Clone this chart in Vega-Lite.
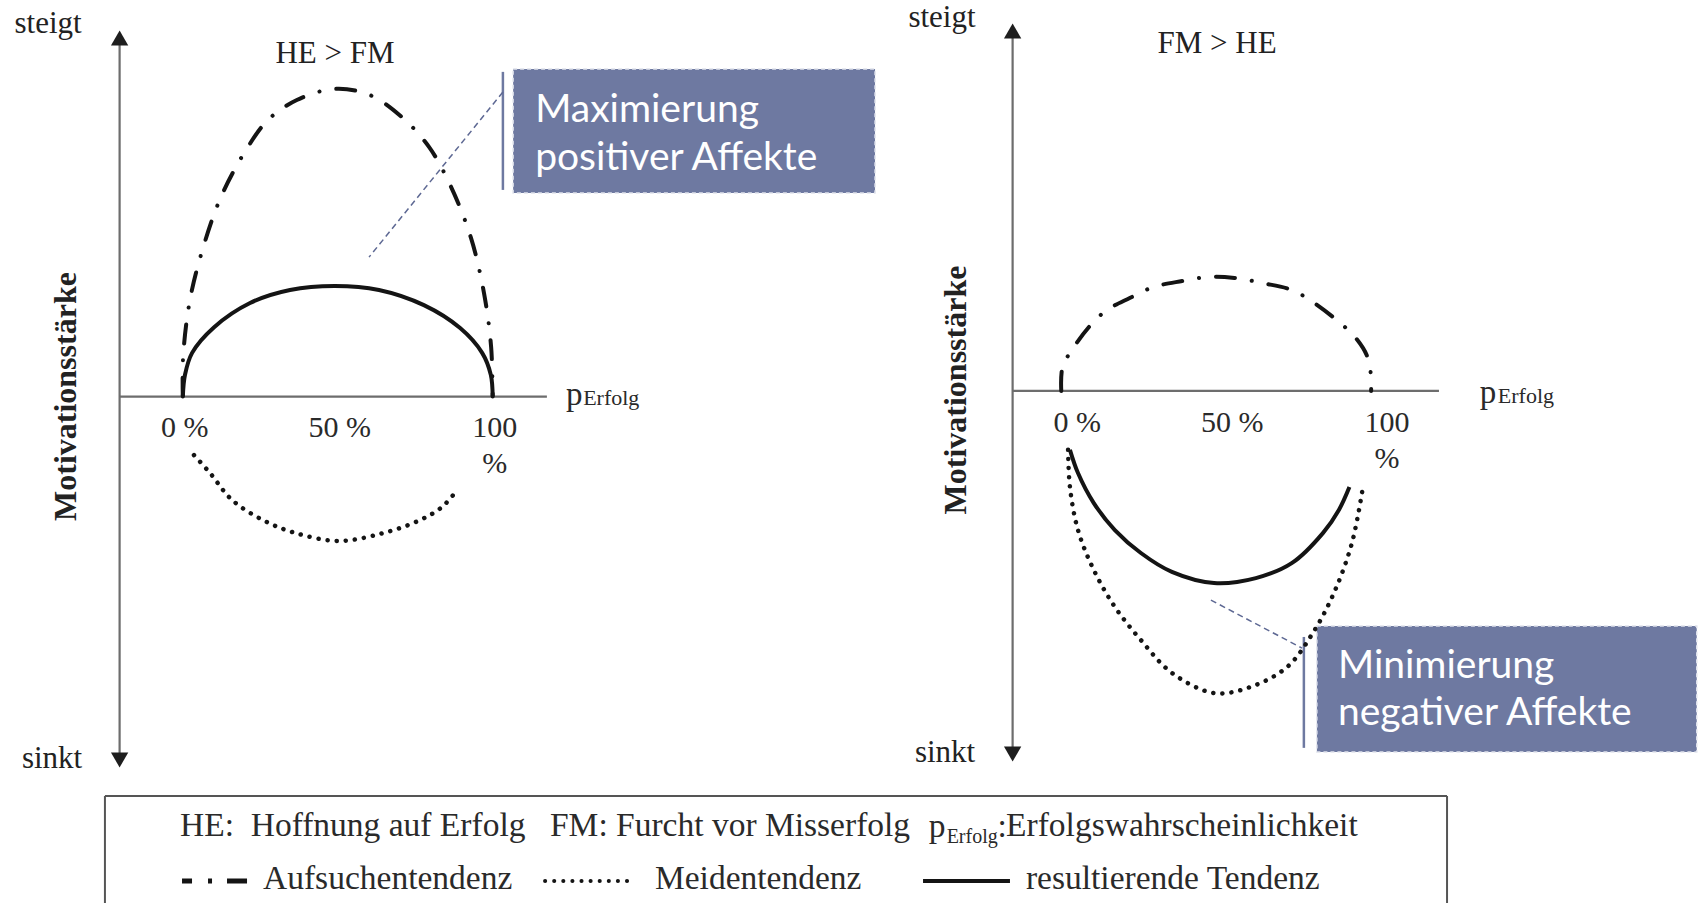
{
  "$schema": "https://vega.github.io/schema/vega-lite/v6.json",
  "padding": 0,
  "spacing": 0,
  "bounds": "full",
  "background": "white",
  "usermeta": {"embedOptions": {"actions": false}},
  "config": {"view": {"stroke": null}, "font": "Liberation Serif"},
  "datasets": {
    "left": [
      {"kind": "box", "x": 106.6, "y": 105.7, "x2": 223.4, "y2": 65.7},
      {"kind": "bar", "x": 103.3, "y": 104.8, "x2": 103.3, "y2": 66.7},
      {"kind": "leader", "x": 103.3, "y": 98.3, "x2": 60.1, "y2": 45.0},
      {"kind": "axis", "x": -20.4, "y": 115.7, "x2": -20.4, "y2": -117.3},
      {"kind": "axis", "x": -20.4, "y": 0, "x2": 117.5, "y2": 0},
      {"kind": "arrow", "dir": "up", "x": -20.4, "y": 115.7},
      {"kind": "arrow", "dir": "down", "x": -20.4, "y": -117.3},
      {"kind": "curve", "s": "Aufsuchentendenz", "i": 0, "x": 0, "y": 0},
      {"kind": "curve", "s": "Aufsuchentendenz", "i": 1, "x": 0.1, "y": 12.8},
      {"kind": "curve", "s": "Aufsuchentendenz", "i": 2, "x": 2.3, "y": 31.2},
      {"kind": "curve", "s": "Aufsuchentendenz", "i": 3, "x": 6.5, "y": 47.9},
      {"kind": "curve", "s": "Aufsuchentendenz", "i": 4, "x": 12.3, "y": 64.4},
      {"kind": "curve", "s": "Aufsuchentendenz", "i": 5, "x": 20.4, "y": 79.6},
      {"kind": "curve", "s": "Aufsuchentendenz", "i": 6, "x": 27.5, "y": 89.3},
      {"kind": "curve", "s": "Aufsuchentendenz", "i": 7, "x": 36.8, "y": 95.7},
      {"kind": "curve", "s": "Aufsuchentendenz", "i": 8, "x": 49.1, "y": 99.3},
      {"kind": "curve", "s": "Aufsuchentendenz", "i": 9, "x": 60.4, "y": 97.3},
      {"kind": "curve", "s": "Aufsuchentendenz", "i": 10, "x": 70.7, "y": 90.2},
      {"kind": "curve", "s": "Aufsuchentendenz", "i": 11, "x": 79.5, "y": 80.5},
      {"kind": "curve", "s": "Aufsuchentendenz", "i": 12, "x": 86.6, "y": 67.6},
      {"kind": "curve", "s": "Aufsuchentendenz", "i": 13, "x": 93.0, "y": 51.2},
      {"kind": "curve", "s": "Aufsuchentendenz", "i": 14, "x": 97.2, "y": 33.4},
      {"kind": "curve", "s": "Aufsuchentendenz", "i": 15, "x": 99.5, "y": 16.0},
      {"kind": "curve", "s": "Aufsuchentendenz", "i": 16, "x": 100, "y": 0},
      {"kind": "curve", "s": "resultierende Tendenz", "i": 0, "x": 0, "y": 0},
      {"kind": "curve", "s": "resultierende Tendenz", "i": 1, "x": 0.7, "y": 7.0},
      {"kind": "curve", "s": "resultierende Tendenz", "i": 2, "x": 3.0, "y": 14.1},
      {"kind": "curve", "s": "resultierende Tendenz", "i": 3, "x": 10.1, "y": 22.4},
      {"kind": "curve", "s": "resultierende Tendenz", "i": 4, "x": 21.7, "y": 30.2},
      {"kind": "curve", "s": "resultierende Tendenz", "i": 5, "x": 34.6, "y": 34.4},
      {"kind": "curve", "s": "resultierende Tendenz", "i": 6, "x": 49.1, "y": 35.7},
      {"kind": "curve", "s": "resultierende Tendenz", "i": 7, "x": 63.3, "y": 34.4},
      {"kind": "curve", "s": "resultierende Tendenz", "i": 8, "x": 77.8, "y": 29.5},
      {"kind": "curve", "s": "resultierende Tendenz", "i": 9, "x": 89.5, "y": 22.1},
      {"kind": "curve", "s": "resultierende Tendenz", "i": 10, "x": 96.6, "y": 14.1},
      {"kind": "curve", "s": "resultierende Tendenz", "i": 11, "x": 99.4, "y": 7.0},
      {"kind": "curve", "s": "resultierende Tendenz", "i": 12, "x": 100, "y": 0},
      {"kind": "curve", "s": "Meidentendenz", "i": 0, "x": 3.6, "y": -18.9},
      {"kind": "curve", "s": "Meidentendenz", "i": 1, "x": 8.8, "y": -24.7},
      {"kind": "curve", "s": "Meidentendenz", "i": 2, "x": 15.9, "y": -33.4},
      {"kind": "curve", "s": "Meidentendenz", "i": 3, "x": 25.9, "y": -39.9},
      {"kind": "curve", "s": "Meidentendenz", "i": 4, "x": 36.2, "y": -44.0},
      {"kind": "curve", "s": "Meidentendenz", "i": 5, "x": 50.4, "y": -46.6},
      {"kind": "curve", "s": "Meidentendenz", "i": 6, "x": 64.9, "y": -44.0},
      {"kind": "curve", "s": "Meidentendenz", "i": 7, "x": 76.5, "y": -39.9},
      {"kind": "curve", "s": "Meidentendenz", "i": 8, "x": 83.6, "y": -35.7},
      {"kind": "curve", "s": "Meidentendenz", "i": 9, "x": 87.8, "y": -31.1},
      {"kind": "title", "t": "steigt", "x": -43.5, "y": 117.3},
      {"kind": "title", "t": "sinkt", "x": -42.2, "y": -119.9},
      {"kind": "title", "t": "HE > FM", "x": 49.1, "y": 107.7},
      {"kind": "ylab", "t": "Motivationsstärke", "x": -37.7, "y": 0},
      {"kind": "tick", "t": "0 %", "x": 0, "y": -13.1},
      {"kind": "tick", "t": "50 %", "x": 50, "y": -13.1},
      {"kind": "tick", "t": "100", "x": 100, "y": -13.1},
      {"kind": "tick", "t": "%", "x": 100, "y": -24.7},
      {"kind": "p", "t": "p", "x": 123.7, "y": -2.7},
      {"kind": "sub", "t": "Erfolg", "x": 129.2, "y": -2.7},
      {"kind": "boxtext", "t": "Maximierung", "x": 113.7, "y": 88.6},
      {"kind": "boxtext", "t": "positiver Affekte", "x": 113.7, "y": 73.1}
    ],
    "right": [
      {"kind": "box", "x": 82.5, "y": -75.9, "x2": 205.1, "y2": -116.5},
      {"kind": "bar", "x": 78.3, "y": -79.4, "x2": 78.3, "y2": -115.2},
      {"kind": "leader", "x": 48.3, "y": -67.5, "x2": 77.7, "y2": -83.0},
      {"kind": "axis", "x": -15.7, "y": 116.2, "x2": -15.7, "y2": -117.2},
      {"kind": "axis", "x": -15.7, "y": 0, "x2": 121.9, "y2": 0},
      {"kind": "arrow", "dir": "up", "x": -15.7, "y": 116.2},
      {"kind": "arrow", "dir": "down", "x": -15.7, "y": -117.2},
      {"kind": "curve", "s": "Aufsuchentendenz", "i": 0, "x": 0, "y": 0},
      {"kind": "curve", "s": "Aufsuchentendenz", "i": 1, "x": 0.4, "y": 7.7},
      {"kind": "curve", "s": "Aufsuchentendenz", "i": 2, "x": 3.4, "y": 13.2},
      {"kind": "curve", "s": "Aufsuchentendenz", "i": 3, "x": 9.5, "y": 21.3},
      {"kind": "curve", "s": "Aufsuchentendenz", "i": 4, "x": 14.7, "y": 26.1},
      {"kind": "curve", "s": "Aufsuchentendenz", "i": 5, "x": 22.1, "y": 30.0},
      {"kind": "curve", "s": "Aufsuchentendenz", "i": 6, "x": 29.9, "y": 33.6},
      {"kind": "curve", "s": "Aufsuchentendenz", "i": 7, "x": 39.1, "y": 35.5},
      {"kind": "curve", "s": "Aufsuchentendenz", "i": 8, "x": 47.5, "y": 36.8},
      {"kind": "curve", "s": "Aufsuchentendenz", "i": 9, "x": 55.9, "y": 36.5},
      {"kind": "curve", "s": "Aufsuchentendenz", "i": 10, "x": 65.1, "y": 34.8},
      {"kind": "curve", "s": "Aufsuchentendenz", "i": 11, "x": 74.4, "y": 32.6},
      {"kind": "curve", "s": "Aufsuchentendenz", "i": 12, "x": 81.2, "y": 28.7},
      {"kind": "curve", "s": "Aufsuchentendenz", "i": 13, "x": 89.6, "y": 22.3},
      {"kind": "curve", "s": "Aufsuchentendenz", "i": 14, "x": 94.8, "y": 17.4},
      {"kind": "curve", "s": "Aufsuchentendenz", "i": 15, "x": 98.6, "y": 11.5},
      {"kind": "curve", "s": "Aufsuchentendenz", "i": 16, "x": 99.9, "y": 5.5},
      {"kind": "curve", "s": "Aufsuchentendenz", "i": 17, "x": 100, "y": 0},
      {"kind": "curve", "s": "resultierende Tendenz", "i": 0, "x": 2.8, "y": -19.0},
      {"kind": "curve", "s": "resultierende Tendenz", "i": 1, "x": 5.4, "y": -26.5},
      {"kind": "curve", "s": "resultierende Tendenz", "i": 2, "x": 10.5, "y": -36.2},
      {"kind": "curve", "s": "resultierende Tendenz", "i": 3, "x": 17.3, "y": -44.9},
      {"kind": "curve", "s": "resultierende Tendenz", "i": 4, "x": 25.7, "y": -52.3},
      {"kind": "curve", "s": "resultierende Tendenz", "i": 5, "x": 35.7, "y": -58.4},
      {"kind": "curve", "s": "resultierende Tendenz", "i": 6, "x": 49.3, "y": -62.0},
      {"kind": "curve", "s": "resultierende Tendenz", "i": 7, "x": 62.8, "y": -60.4},
      {"kind": "curve", "s": "resultierende Tendenz", "i": 8, "x": 74.5, "y": -55.5},
      {"kind": "curve", "s": "resultierende Tendenz", "i": 9, "x": 84.5, "y": -45.8},
      {"kind": "curve", "s": "resultierende Tendenz", "i": 10, "x": 89.6, "y": -38.4},
      {"kind": "curve", "s": "resultierende Tendenz", "i": 11, "x": 93.0, "y": -31.0},
      {"kind": "curve", "s": "Meidentendenz", "i": 0, "x": 2.2, "y": -19.0},
      {"kind": "curve", "s": "Meidentendenz", "i": 1, "x": 2.8, "y": -31.0},
      {"kind": "curve", "s": "Meidentendenz", "i": 2, "x": 5.4, "y": -44.9},
      {"kind": "curve", "s": "Meidentendenz", "i": 3, "x": 10.5, "y": -57.8},
      {"kind": "curve", "s": "Meidentendenz", "i": 4, "x": 17.3, "y": -69.7},
      {"kind": "curve", "s": "Meidentendenz", "i": 5, "x": 25.7, "y": -80.4},
      {"kind": "curve", "s": "Meidentendenz", "i": 6, "x": 35.7, "y": -91.0},
      {"kind": "curve", "s": "Meidentendenz", "i": 7, "x": 49.3, "y": -97.5},
      {"kind": "curve", "s": "Meidentendenz", "i": 8, "x": 60.9, "y": -95.6},
      {"kind": "curve", "s": "Meidentendenz", "i": 9, "x": 72.9, "y": -89.1},
      {"kind": "curve", "s": "Meidentendenz", "i": 10, "x": 81.2, "y": -78.1},
      {"kind": "curve", "s": "Meidentendenz", "i": 11, "x": 88.0, "y": -65.2},
      {"kind": "curve", "s": "Meidentendenz", "i": 12, "x": 93.8, "y": -49.1},
      {"kind": "curve", "s": "Meidentendenz", "i": 13, "x": 97.2, "y": -32.0},
      {"kind": "title", "t": "steigt", "x": -38.5, "y": 117.5},
      {"kind": "title", "t": "sinkt", "x": -37.5, "y": -119.8},
      {"kind": "title", "t": "FM > HE", "x": 50.3, "y": 109.1},
      {"kind": "ylab", "t": "Motivationsstärke", "x": -34.0, "y": 0.3},
      {"kind": "tick", "t": "0 %", "x": 0, "y": -13.2},
      {"kind": "tick", "t": "50 %", "x": 50, "y": -13.2},
      {"kind": "tick", "t": "100", "x": 100, "y": -13.2},
      {"kind": "tick", "t": "%", "x": 100, "y": -24.9},
      {"kind": "p", "t": "p", "x": 135.1, "y": -3.9},
      {"kind": "sub", "t": "Erfolg", "x": 140.9, "y": -3.9},
      {"kind": "boxtext", "t": "Minimierung", "x": 89.3, "y": -92.7},
      {"kind": "boxtext", "t": "negativer Affekte", "x": 89.3, "y": -107.8}
    ],
    "legend": [
      {"kind": "border", "x": 6.18, "y": 5.3, "x2": 85.22, "y2": 5.3},
      {"kind": "border", "x": 6.18, "y": 5.3, "x2": 6.18, "y2": 100},
      {"kind": "border", "x": 85.22, "y": 5.3, "x2": 85.22, "y2": 100},
      {"kind": "symA", "x": 10.72, "y": 80.5, "x2": 14.55, "y2": 80.5},
      {"kind": "symM", "x": 32.1, "y": 80.5, "x2": 37.28, "y2": 80.5},
      {"kind": "symR", "x": 54.36, "y": 80.5, "x2": 59.48, "y2": 80.5},
      {"kind": "txt", "t": "HE:\u00a0 Hoffnung auf Erfolg", "x": 10.6, "y": 40.7},
      {"kind": "txt", "t": "FM: Furcht vor Misserfolg", "x": 32.39, "y": 40.7},
      {"kind": "txt", "t": "p", "x": 54.7, "y": 41.6},
      {"kind": "sub", "t": "Erfolg", "x": 55.75, "y": 46.9},
      {"kind": "txt", "t": ":", "x": 58.75, "y": 41.6},
      {"kind": "txt", "t": "Erfolgswahrscheinlichkeit", "x": 59.25, "y": 40.7},
      {"kind": "txt", "t": "Aufsuchentendenz", "x": 15.49, "y": 87.6},
      {"kind": "txt", "t": "Meidentendenz", "x": 38.57, "y": 87.6},
      {"kind": "txt", "t": "resultierende Tendenz", "x": 60.42, "y": 87.6}
    ]
  },
  "vconcat": [
    {
      "spacing": 0,
      "bounds": "flush",
      "hconcat": [
        {
          "width": 880,
          "height": 790,
          "data": {"name": "left"},
          "encoding": {
            "x": {"field": "x", "type": "quantitative", "scale": {"domain": [-59, 225], "nice": false, "zero": false}, "axis": null},
            "y": {"field": "y", "type": "quantitative", "scale": {"domain": [-127, 128], "nice": false, "zero": false}, "axis": null}
          },
          "layer": [
            {"transform": [{"filter": "datum.kind === 'box'"}], "mark": {"type": "rect", "fill": "#6e79a1", "stroke": "#dfe2ec", "strokeWidth": 1.5, "strokeDash": [4, 3]}, "encoding": {"x2": {"field": "x2"}, "y2": {"field": "y2"}}},
            {"transform": [{"filter": "datum.kind === 'bar'"}], "mark": {"type": "rule", "color": "#6e79a1", "strokeWidth": 2.5}, "encoding": {"x2": {"field": "x2"}, "y2": {"field": "y2"}}},
            {"transform": [{"filter": "datum.kind === 'leader'"}], "mark": {"type": "rule", "color": "#5d6893", "strokeWidth": 1.5, "strokeDash": [6, 4]}, "encoding": {"x2": {"field": "x2"}, "y2": {"field": "y2"}}},
            {"transform": [{"filter": "datum.kind === 'axis'"}], "mark": {"type": "rule", "color": "#6d6d6d", "strokeWidth": 2.2}, "encoding": {"x2": {"field": "x2"}, "y2": {"field": "y2"}}},
            {"transform": [{"filter": "datum.kind === 'arrow'"}], "mark": {"type": "point", "filled": true, "color": "#1e1e1e", "size": 300, "opacity": 1}, "encoding": {"shape": {"field": "dir", "type": "nominal", "scale": {"domain": ["up", "down"], "range": ["triangle-up", "triangle-down"]}, "legend": null}}},
            {"transform": [{"filter": "datum.kind === 'curve' && datum.s === 'Aufsuchentendenz'"}], "mark": {"type": "line", "interpolate": "catmull-rom", "color": "#141414", "strokeWidth": 4, "strokeCap": "round", "strokeDash": [19, 17, 0.1, 17]}, "encoding": {"order": {"field": "i", "type": "quantitative"}}},
            {"transform": [{"filter": "datum.kind === 'curve' && datum.s === 'Meidentendenz'"}], "mark": {"type": "line", "interpolate": "catmull-rom", "color": "#141414", "strokeWidth": 4.5, "strokeCap": "round", "strokeDash": [0.1, 9]}, "encoding": {"order": {"field": "i", "type": "quantitative"}}},
            {"transform": [{"filter": "datum.kind === 'curve' && datum.s === 'resultierende Tendenz'"}], "mark": {"type": "line", "interpolate": "catmull-rom", "color": "#141414", "strokeWidth": 4}, "encoding": {"order": {"field": "i", "type": "quantitative"}}},
            {"transform": [{"filter": "datum.kind === 'title'"}], "mark": {"type": "text", "font": "Liberation Serif", "fontSize": 31, "align": "center", "baseline": "alphabetic", "color": "#222222"}, "encoding": {"text": {"field": "t"}}},
            {"transform": [{"filter": "datum.kind === 'ylab'"}], "mark": {"type": "text", "font": "Liberation Serif", "fontSize": 32, "fontWeight": "bold", "angle": 270, "align": "center", "baseline": "middle", "color": "#222222"}, "encoding": {"text": {"field": "t"}}},
            {"transform": [{"filter": "datum.kind === 'tick'"}], "mark": {"type": "text", "font": "Liberation Serif", "fontSize": 30, "align": "center", "baseline": "alphabetic", "dx": 2, "color": "#2a2a2a"}, "encoding": {"text": {"field": "t"}}},
            {"transform": [{"filter": "datum.kind === 'p'"}], "mark": {"type": "text", "font": "Liberation Serif", "fontSize": 33, "align": "left", "baseline": "alphabetic", "color": "#2a2a2a"}, "encoding": {"text": {"field": "t"}}},
            {"transform": [{"filter": "datum.kind === 'sub'"}], "mark": {"type": "text", "font": "Liberation Serif", "fontSize": 22, "align": "left", "baseline": "alphabetic", "color": "#2a2a2a"}, "encoding": {"text": {"field": "t"}}},
            {"transform": [{"filter": "datum.kind === 'boxtext'"}], "mark": {"type": "text", "font": "Lato", "fontSize": 39, "align": "left", "baseline": "alphabetic", "color": "#ffffff"}, "encoding": {"text": {"field": "t"}}}
          ]
        },
        {
          "width": 818,
          "height": 790,
          "data": {"name": "right"},
          "encoding": {
            "x": {"field": "x", "type": "quantitative", "scale": {"domain": [-58.5, 205.5], "nice": false, "zero": false}, "axis": null},
            "y": {"field": "y", "type": "quantitative", "scale": {"domain": [-128.8, 126.2], "nice": false, "zero": false}, "axis": null}
          },
          "layer": [
            {"transform": [{"filter": "datum.kind === 'box'"}], "mark": {"type": "rect", "fill": "#6e79a1", "stroke": "#dfe2ec", "strokeWidth": 1.5, "strokeDash": [4, 3]}, "encoding": {"x2": {"field": "x2"}, "y2": {"field": "y2"}}},
            {"transform": [{"filter": "datum.kind === 'bar'"}], "mark": {"type": "rule", "color": "#6e79a1", "strokeWidth": 2.5}, "encoding": {"x2": {"field": "x2"}, "y2": {"field": "y2"}}},
            {"transform": [{"filter": "datum.kind === 'leader'"}], "mark": {"type": "rule", "color": "#5d6893", "strokeWidth": 1.5, "strokeDash": [6, 4]}, "encoding": {"x2": {"field": "x2"}, "y2": {"field": "y2"}}},
            {"transform": [{"filter": "datum.kind === 'axis'"}], "mark": {"type": "rule", "color": "#6d6d6d", "strokeWidth": 2.2}, "encoding": {"x2": {"field": "x2"}, "y2": {"field": "y2"}}},
            {"transform": [{"filter": "datum.kind === 'arrow'"}], "mark": {"type": "point", "filled": true, "color": "#1e1e1e", "size": 300, "opacity": 1}, "encoding": {"shape": {"field": "dir", "type": "nominal", "scale": {"domain": ["up", "down"], "range": ["triangle-up", "triangle-down"]}, "legend": null}}},
            {"transform": [{"filter": "datum.kind === 'curve' && datum.s === 'Aufsuchentendenz'"}], "mark": {"type": "line", "interpolate": "catmull-rom", "color": "#141414", "strokeWidth": 4, "strokeCap": "round", "strokeDash": [19, 17, 0.1, 17]}, "encoding": {"order": {"field": "i", "type": "quantitative"}}},
            {"transform": [{"filter": "datum.kind === 'curve' && datum.s === 'Meidentendenz'"}], "mark": {"type": "line", "interpolate": "catmull-rom", "color": "#141414", "strokeWidth": 4.5, "strokeCap": "round", "strokeDash": [0.1, 9]}, "encoding": {"order": {"field": "i", "type": "quantitative"}}},
            {"transform": [{"filter": "datum.kind === 'curve' && datum.s === 'resultierende Tendenz'"}], "mark": {"type": "line", "interpolate": "catmull-rom", "color": "#141414", "strokeWidth": 4}, "encoding": {"order": {"field": "i", "type": "quantitative"}}},
            {"transform": [{"filter": "datum.kind === 'title'"}], "mark": {"type": "text", "font": "Liberation Serif", "fontSize": 31, "align": "center", "baseline": "alphabetic", "color": "#222222"}, "encoding": {"text": {"field": "t"}}},
            {"transform": [{"filter": "datum.kind === 'ylab'"}], "mark": {"type": "text", "font": "Liberation Serif", "fontSize": 32, "fontWeight": "bold", "angle": 270, "align": "center", "baseline": "middle", "color": "#222222"}, "encoding": {"text": {"field": "t"}}},
            {"transform": [{"filter": "datum.kind === 'tick'"}], "mark": {"type": "text", "font": "Liberation Serif", "fontSize": 30, "align": "center", "baseline": "alphabetic", "dx": 16, "color": "#2a2a2a"}, "encoding": {"text": {"field": "t"}}},
            {"transform": [{"filter": "datum.kind === 'p'"}], "mark": {"type": "text", "font": "Liberation Serif", "fontSize": 33, "align": "left", "baseline": "alphabetic", "color": "#2a2a2a"}, "encoding": {"text": {"field": "t"}}},
            {"transform": [{"filter": "datum.kind === 'sub'"}], "mark": {"type": "text", "font": "Liberation Serif", "fontSize": 22, "align": "left", "baseline": "alphabetic", "color": "#2a2a2a"}, "encoding": {"text": {"field": "t"}}},
            {"transform": [{"filter": "datum.kind === 'boxtext'"}], "mark": {"type": "text", "font": "Lato", "fontSize": 39, "align": "left", "baseline": "alphabetic", "color": "#ffffff"}, "encoding": {"text": {"field": "t"}}}
          ]
        }
      ]
    },
    {
      "width": 1698,
      "height": 113,
      "data": {"name": "legend"},
      "encoding": {
        "x": {"field": "x", "type": "quantitative", "scale": {"domain": [0, 100], "nice": false, "zero": false}, "axis": null},
        "y": {"field": "y", "type": "quantitative", "scale": {"domain": [0, 100], "nice": false, "zero": false, "reverse": true}, "axis": null}
      },
      "layer": [
        {"transform": [{"filter": "datum.kind === 'border'"}], "mark": {"type": "rule", "color": "#555555", "strokeWidth": 2}, "encoding": {"x2": {"field": "x2"}, "y2": {"field": "y2"}}},
        {"transform": [{"filter": "datum.kind === 'symA'"}], "mark": {"type": "rule", "color": "#141414", "strokeWidth": 5, "strokeDash": [10, 16, 4, 15, 20]}, "encoding": {"x2": {"field": "x2"}, "y2": {"field": "y2"}}},
        {"transform": [{"filter": "datum.kind === 'symM'"}], "mark": {"type": "rule", "color": "#141414", "strokeWidth": 4, "strokeCap": "round", "strokeDash": [0.1, 9]}, "encoding": {"x2": {"field": "x2"}, "y2": {"field": "y2"}}},
        {"transform": [{"filter": "datum.kind === 'symR'"}], "mark": {"type": "rule", "color": "#141414", "strokeWidth": 4}, "encoding": {"x2": {"field": "x2"}, "y2": {"field": "y2"}}},
        {"transform": [{"filter": "datum.kind === 'txt'"}], "mark": {"type": "text", "font": "Liberation Serif", "fontSize": 33.5, "align": "left", "baseline": "alphabetic", "color": "#2a2a2a"}, "encoding": {"text": {"field": "t"}}},
        {"transform": [{"filter": "datum.kind === 'sub'"}], "mark": {"type": "text", "font": "Liberation Serif", "fontSize": 20, "align": "left", "baseline": "alphabetic", "color": "#2a2a2a"}, "encoding": {"text": {"field": "t"}}}
      ]
    }
  ]
}
